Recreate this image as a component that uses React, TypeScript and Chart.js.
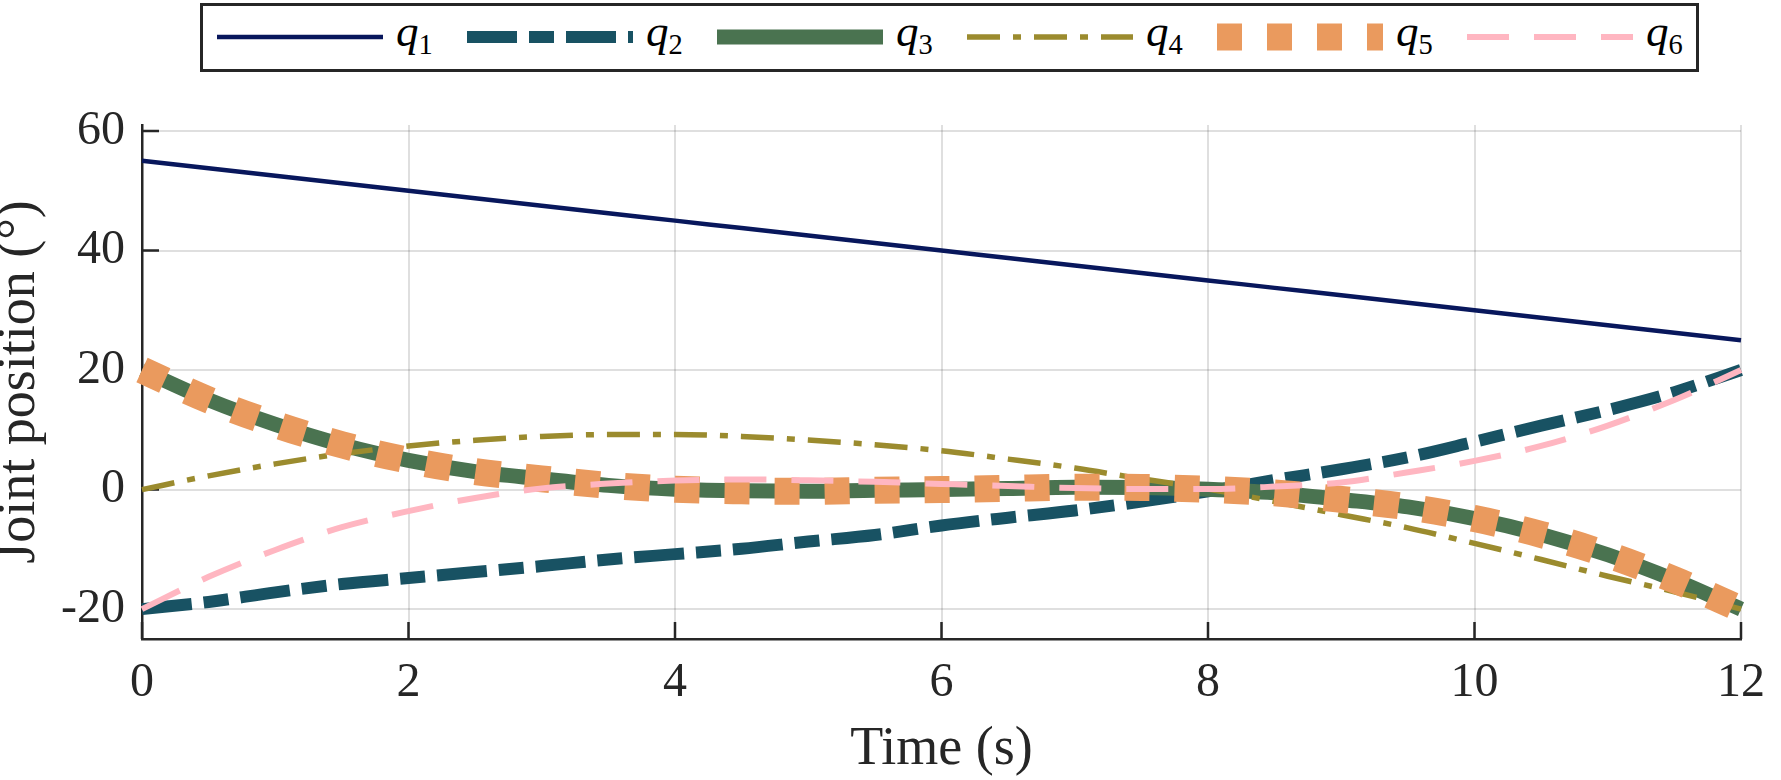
import React, { useEffect, useRef } from "react";
import { Chart, registerables } from "chart.js";

Chart.register(...registerables);

// time samples (s) and joint angles (deg)
const times = [0, 0.5, 1, 1.5, 2, 2.5, 3, 3.5, 4, 4.5, 5, 5.5, 6, 6.5, 7, 7.5, 8, 8.5, 9, 9.5, 10, 10.5, 11, 11.5, 12];
const q1 = [55, 53.75, 52.5, 51.25, 50, 48.75, 47.5, 46.25, 45, 43.75, 42.5, 41.25, 40, 38.75, 37.5, 36.25, 35, 33.75, 32.5, 31.25, 30, 28.75, 27.5, 26.25, 25];
const q2 = [-20, -18.8, -17.2, -15.8, -14.8, -13.8, -12.8, -11.7, -10.8, -9.9, -8.7, -7.6, -6.0, -4.7, -3.5, -2.0, -0.3, 1.6, 3.4, 5.4, 8.0, 10.7, 13.3, 16.3, 20];
const q3 = [20, 15.0, 10.9, 7.5, 4.9, 3.0, 1.8, 0.7, 0.05, -0.2, -0.3, -0.1, 0, 0.2, 0.4, 0.35, 0.05, -0.55, -1.65, -2.9, -4.85, -7.5, -10.9, -15.1, -20];
const q4 = [0, 2.3, 4.3, 6.0, 7.3, 8.25, 8.9, 9.2, 9.2, 8.9, 8.3, 7.5, 6.5, 5.1, 3.6, 1.8, 0.1, -2.0, -4.2, -6.4, -9.0, -11.7, -14.5, -17.1, -20];
const q5 = [20, 15.0, 10.9, 7.5, 4.9, 3.0, 1.8, 0.7, 0.05, -0.2, -0.3, -0.1, 0, 0.2, 0.4, 0.35, 0.05, -0.55, -1.65, -2.9, -4.85, -7.5, -10.9, -15.1, -20];
const q6 = [-20, -14.6, -10.1, -6.3, -3.6, -1.4, 0.2, 1.0, 1.5, 1.7, 1.55, 1.3, 0.95, 0.6, 0.25, 0.1, 0.1, 0.5, 1.2, 2.9, 4.8, 7.3, 10.7, 15.0, 20];

const seriesIndex = ["1", "2", "3", "4", "5", "6"];
const seriesValues = [q1, q2, q3, q4, q5, q6];

const xTicks = [0, 2, 4, 6, 8, 10, 12];
const yTicks = [-20, 0, 20, 40, 60];

// line styles (colour, width, dash) per joint
const styles = [
  { color: "#08175c", width: 4.5, dash: [] as number[] },
  { color: "#185263", width: 12, dash: [50, 12, 25, 12] },
  { color: "#4a7350", width: 15, dash: [] as number[] },
  { color: "#9b8b2e", width: 5.5, dash: [33, 13, 8, 13] },
  { color: "#ea9a5e", width: 27, dash: [25, 25] },
  { color: "#ffb6c1", width: 6, dash: [42, 25] },
];

const AXIS = "#262626";
const FONT = "'Liberation Serif', 'Times New Roman', serif";

const inwardTicks = {
  id: "inwardTicks",
  beforeDatasetsDraw(chart: any) {
    const { ctx, chartArea, scales } = chart;
    ctx.save();
    ctx.strokeStyle = AXIS;
    ctx.lineWidth = 2.5;
    ctx.beginPath();
    xTicks.forEach((v) => {
      const x = scales.x.getPixelForValue(v);
      ctx.moveTo(x, chartArea.bottom);
      ctx.lineTo(x, chartArea.bottom - 17);
    });
    yTicks.forEach((v) => {
      const y = scales.y.getPixelForValue(v);
      ctx.moveTo(chartArea.left, y);
      ctx.lineTo(chartArea.left + 17, y);
    });
    ctx.stroke();
    ctx.restore();
  },
};

function Legend() {
  return (
    <div
      style={{
        position: "absolute",
        left: 200,
        top: 3,
        width: 1499,
        height: 69,
        border: `3px solid ${AXIS}`,
        boxSizing: "border-box",
        background: "#fff",
      }}
    >
      {seriesIndex.map((idx, i) => (
        <React.Fragment key={idx}>
          <svg
            width={166}
            height={40}
            style={{ position: "absolute", left: 14 + 250 * i, top: 10.5 }}
          >
            <line
              x1={0}
              x2={166}
              y1={20}
              y2={20}
              stroke={styles[i].color}
              strokeWidth={styles[i].width}
              strokeDasharray={styles[i].dash.length ? styles[i].dash.join(" ") : undefined}
            />
          </svg>
          <div
            style={{
              position: "absolute",
              left: 193 + 250 * i,
              top: 3,
              fontFamily: FONT,
              fontStyle: "italic",
              fontSize: 45,
              lineHeight: "45px",
              color: "#000",
              whiteSpace: "nowrap",
            }}
          >
            q
            <span style={{ fontStyle: "normal", fontSize: 28.5, position: "relative", top: 7.6 }}>{idx}</span>
          </div>
        </React.Fragment>
      ))}
    </div>
  );
}

export default function App() {
  const canvasRef = useRef<HTMLCanvasElement>(null);

  useEffect(() => {
    if (!canvasRef.current) return;
    const chart = new Chart(canvasRef.current, {
      type: "line",
      data: {
        datasets: seriesValues.map((vals, i) => ({
          label: `q${seriesIndex[i]}`,
          data: times.map((t, k) => ({ x: t, y: vals[k] })),
          borderColor: styles[i].color,
          backgroundColor: styles[i].color,
          borderWidth: styles[i].width,
          borderDash: styles[i].dash,
          borderCapStyle: "butt",
          borderJoinStyle: "round",
          cubicInterpolationMode: "monotone",
          pointRadius: 0,
          fill: false,
          order: 6 - i,
          clip: false,
        })),
      },
      options: {
        responsive: true,
        maintainAspectRatio: false,
        animation: false,
        layout: { padding: { left: 0, right: 24, top: 125, bottom: 0 } },
        plugins: {
          legend: { display: false },
          tooltip: { enabled: false },
        },
        scales: {
          x: {
            type: "linear",
            min: 0,
            max: 12,
            afterBuildTicks: (s: any) => {
              s.ticks = xTicks.map((v) => ({ value: v }));
            },
            afterFit: (s: any) => {
              s.height = 141;
            },
            grid: { color: "rgba(38,38,38,0.15)", lineWidth: 2, drawTicks: false },
            border: { display: true, color: AXIS, width: 2.5 },
            ticks: {
              autoSkip: false,
              maxRotation: 0,
              padding: 16,
              color: AXIS,
              font: { family: FONT, size: 48 },
            },
            title: {
              display: true,
              text: "Time (s)",
              color: AXIS,
              font: { family: FONT, size: 54, lineHeight: 0.7 },
              padding: { top: 0, bottom: 11 },
            },
          },
          y: {
            type: "linear",
            min: -25,
            max: 61,
            afterBuildTicks: (s: any) => {
              s.ticks = yTicks.map((v) => ({ value: v }));
            },
            afterFit: (s: any) => {
              s.width = 142;
            },
            grid: { color: "rgba(38,38,38,0.15)", lineWidth: 2, drawTicks: false },
            border: { display: true, color: AXIS, width: 2.5 },
            ticks: {
              padding: 17,
              color: AXIS,
              font: { family: FONT, size: 48 },
            },
            title: {
              display: true,
              text: "Joint position (°)",
              color: AXIS,
              font: { family: FONT, size: 54, lineHeight: 0.7 },
              padding: { top: 1, bottom: 0 },
            },
          },
        },
      },
      plugins: [inwardTicks],
    } as any);
    return () => chart.destroy();
  }, []);

  return (
    <div
      style={{
        position: "absolute",
        left: 0,
        top: 0,
        width: 1781,
        height: 780,
        background: "#fff",
        overflow: "hidden",
      }}
    >
      <div style={{ position: "absolute", left: 0, top: 0, width: 1781, height: 780 }}>
        <canvas ref={canvasRef} />
      </div>
      <Legend />
    </div>
  );
}
